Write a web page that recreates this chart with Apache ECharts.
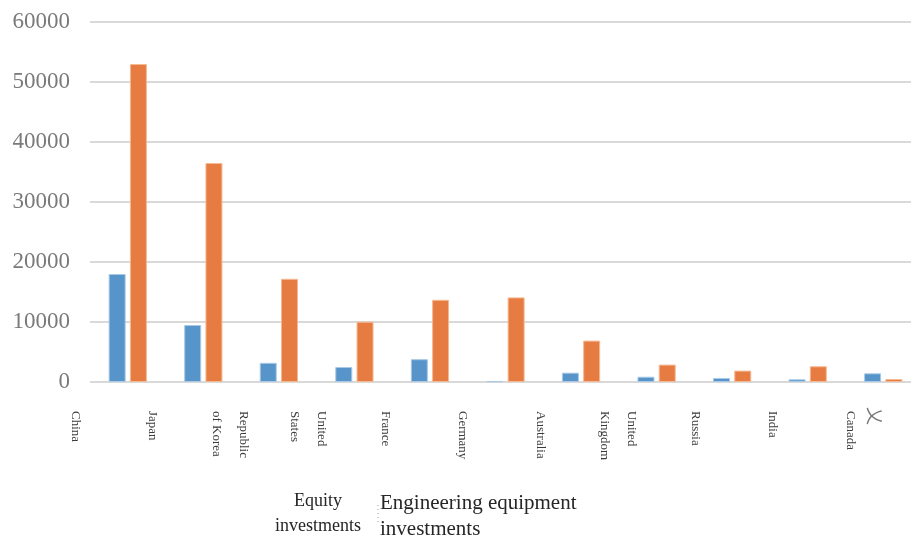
<!DOCTYPE html>
<html>
<head>
<meta charset="utf-8">
<style>
  html, body { margin: 0; padding: 0; background: #fff; overflow: hidden; width: 911px; height: 540px; }
  #chart { width: 921px; height: 540px; }
</style>
<script src="https://cdn.jsdelivr.net/npm/echarts@6/dist/echarts.min.js"></script>
</head>
<body>
<div id="chart"></div>
<script>
// Investment by partner country
const countries = ['China', 'Japan', 'Republic of Korea', 'United States', 'France', 'Germany',
  'Australia', 'United Kingdom', 'Russia', 'India', 'Canada'];
const countryLabels = ['China', 'Japan', 'Republic\nof Korea', 'United\nStates', 'France', 'Germany',
  'Australia', 'United\nKingdom', 'Russia', 'India', 'Canada'];
const equityInvestments = [18000, 9500, 3200, 2500, 3800, 150, 1550, 880, 670, 450, 1450];
const engineeringInvestments = [53000, 36500, 17200, 10050, 13700, 14100, 6900, 2900, 1900, 2620, 500];
const yTicks = [0, 10000, 20000, 30000, 40000, 50000, 60000];

const serif = '"Liberation Serif", "Times New Roman", serif';

const chart = echarts.init(document.getElementById('chart'), null, { renderer: 'canvas' });

chart.setOption({
  animation: false,
  backgroundColor: '#ffffff',
  grid: [
    { left: 90, width: 831, top: 22, bottom: 158, containLabel: false },
    { left: 36.25, width: 852.5, top: 22, bottom: 158, containLabel: false }
  ],
  xAxis: [
    {
      type: 'category',
      gridIndex: 0,
      data: countries,
      axisLine: { show: false },
      axisTick: { show: false },
      axisLabel: { show: false }
    },
    {
      type: 'category',
      gridIndex: 1,
      data: countryLabels,
      axisLine: { show: false },
      axisTick: { show: false },
      axisLabel: {
        interval: 0,
        rotate: -90,
        margin: 29,
        color: '#3a3a3a',
        fontFamily: serif,
        fontSize: 13,
        lineHeight: 27
      }
    }
  ],
  yAxis: [
    {
      type: 'value',
      gridIndex: 0,
      min: yTicks[0],
      max: yTicks[yTicks.length - 1],
      interval: yTicks[1] - yTicks[0],
      axisLine: { show: false },
      axisTick: { show: false },
      axisLabel: {
        margin: 20,
        color: '#7a7a7a',
        fontFamily: serif,
        fontSize: 23,
        formatter: (v) => String(v)
      },
      splitLine: { lineStyle: { color: '#d9d9d9', width: 2 } }
    },
    {
      type: 'value',
      gridIndex: 1,
      show: false
    }
  ],
  legend: { show: false },
  series: [
    {
      name: 'Equity investments',
      type: 'bar',
      xAxisIndex: 0,
      yAxisIndex: 0,
      data: equityInvestments,
      barWidth: 17,
      barGap: '25%',
      itemStyle: { color: '#5694c9', borderColor: '#a9c9e6', borderWidth: 1 }
    },
    {
      name: 'Engineering equipment investments',
      type: 'bar',
      xAxisIndex: 0,
      yAxisIndex: 0,
      data: engineeringInvestments,
      barWidth: 17,
      barGap: '25%',
      itemStyle: { color: '#e77c42', borderColor: '#f5b993', borderWidth: 1 }
    }
  ],
  graphic: [
    {
      type: 'text',
      x: 318,
      y: 489,
      style: {
        text: 'Equity\ninvestments',
        align: 'center',
        verticalAlign: 'top',
        font: '18px ' + serif,
        lineHeight: 25,
        fill: '#262626'
      }
    },
    {
      type: 'text',
      x: 380,
      y: 490,
      style: {
        text: 'Engineering equipment\ninvestments',
        align: 'left',
        verticalAlign: 'top',
        font: '21px ' + serif,
        lineHeight: 26,
        fill: '#262626'
      }
    },
    {
      type: 'line',
      shape: { x1: 378, y1: 505, x2: 378, y2: 522 },
      style: { stroke: '#a0a0a0', lineWidth: 1, lineDash: [1, 3] }
    },
    {
      type: 'text',
      x: 875,
      y: 416,
      rotation: -Math.PI / 2,
      style: {
        text: '乂',
        font: '18px "Noto Sans CJK SC"',
        fill: '#777777',
        align: 'center',
        verticalAlign: 'middle'
      }
    }
  ]
});
</script>
</body>
</html>
